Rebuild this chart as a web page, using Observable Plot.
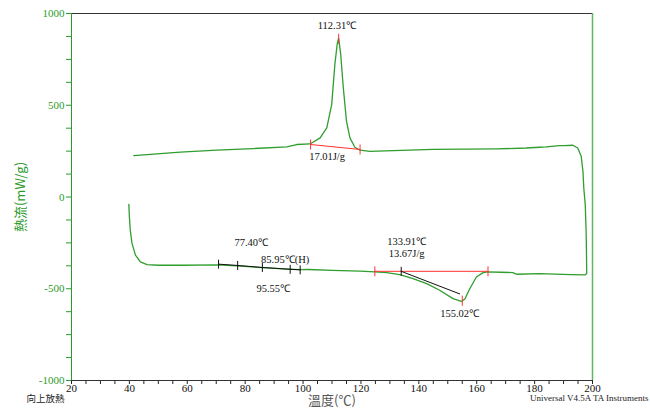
<!DOCTYPE html>
<html><head><meta charset="utf-8">
<script src="https://cdn.jsdelivr.net/npm/d3@7"></script>
<script src="https://cdn.jsdelivr.net/npm/@observablehq/plot@0.6"></script>
<style>body{margin:0;background:#fff}</style>
</head><body><div id="chart"></div>
<script>
// DSC loop: heating (lower) then cooling (upper), in drawing order
const temps = [39.8,40.0,40.3,40.9,42.1,43.8,46.1,50,58.2,70.8,77.1,85.8,94.9,99.0,101.8,110,119.7,124.8,128.9,133.4,138.0,142.7,147.2,151.8,154.7,155.9,157.6,159.9,162.2,163.9,168,172.5,173.7,181.7,192.6,197.5,198.0,197.9,197.8,197.5,197.0,196.7,196.1,194.9,193.2,190.3,188.6,184.0,181.7,177.1,166.8,144.9,123.1,119.7,117.9,116.2,115.0,113.9,113.0,112.3,111.8,111.0,109.9,108.2,105.9,102.4,97.8,94.4,82.8,70.2,57.6,41.5];
const heatFlow = [-40,-107,-180,-253,-317,-353,-368,-372,-372,-370,-375,-385,-393,-396,-395,-400,-404,-408,-412,-423,-445,-472,-508,-554,-569,-556,-500,-436,-412,-408,-410,-412,-421,-418,-423,-424,-417,-280,-189,-43,48,140,222,267,282,280,280,273,271,267,262,259,249,255,271,322,414,596,779,865,834,724,505,377,322,289,286,273,264,255,245,226];

const xDomain = [20, 200];
const yDomain = [-1000, 1000];
const xTicks = [20,40,60,80,100,120,140,160,180,200];
const xMinor = [25,30,35,45,50,55,65,70,75,85,90,95,105,110,115,125,130,135,145,150,155,165,170,175,185,190,195];
const yTicks = [-1000,-500,0,500,1000];
const yMinor = [-875,-750,-625,-375,-250,-125,125,250,375,625,750,875];

// annotations
const redLineT = [102.6, 119.7];
const redLineV = [286, 259];
const redLine2T = [124.8, 163.9];
const redLine2V = [-405, -405];
const redMarkT = [102.6, 119.7, 112.31, 124.8, 163.9, 155.02];
const redMarkV = [286, 259, 862, -405, -405, -565];
const tgLineT = [70.8, 77.4, 85.95, 95.55, 99.0];
const tgLineV = [-366, -373, -384, -394, -397];
const blackLine2T = [133.91, 154.1];
const blackLine2V = [-405, -528];
const blackMarkT = [70.8, 77.4, 85.95, 95.55, 99.0, 133.91];
const blackMarkV = [-366, -373, -384, -394, -397, -405];
const labelText = ["112.31℃","17.01J/g","77.40℃","85.95℃(H)","95.55℃","133.91℃","13.67J/g","155.02℃"];
const labelT = [111.7, 108.3, 82.1, 93.8, 89.7, 135.8, 135.8, 154.1];
const labelV = [934, 220, -249, -342, -498, -244, -308, -638];

const yLabel = "熱流(mW/g)";
const xLabel = "溫度(℃)";
const leftNote = "向上放熱";
const rightNote = "Universal V4.5A TA Instruments";

const green = "#2b9b2b";
const curveColor = "#2f9e2f";
const serif = "'Liberation Serif','Times New Roman',serif";
const cjk = "'Noto Sans CJK TC','Noto Sans CJK SC',sans-serif";

const pts = (T, V) => T.map((t, i) => ({t, v: V[i]}));
const loop = pts(temps, heatFlow);
const vline = {draw(ctx, size) { const r = Math.sqrt(size / Math.PI); ctx.moveTo(0, -r); ctx.lineTo(0, r); }};

const chart = Plot.plot({
  width: 650, height: 412,
  marginLeft: 71, marginRight: 58, marginTop: 13, marginBottom: 32,
  x: {domain: xDomain, label: null},
  y: {domain: yDomain, label: null},
  style: {fontFamily: serif, fontSize: "11px", background: "#fff"},
  marks: [
    Plot.axisY({ticks: yMinor, tickSize: 5, tickFormat: () => "", stroke: green, label: null}),
    Plot.axisY({ticks: yTicks, tickSize: 5, tickPadding: 2, tickFormat: d => String(d), stroke: green, fill: green, fontSize: 11, fontFamily: serif, label: null}),
    Plot.axisX({ticks: xMinor, tickSize: 4, tickFormat: () => "", stroke: "#222", label: null}),
    Plot.axisX({ticks: xTicks, tickSize: 4, tickPadding: 0, tickFormat: d => String(d), stroke: "#222", fill: "#111", fontSize: 11, fontFamily: serif, label: null}),
    Plot.ruleY([yDomain[1]], {stroke: "#333"}),
    Plot.ruleY([yDomain[0]], {stroke: "#333"}),
    Plot.ruleX([xDomain[1]], {stroke: "#5cb85c", strokeWidth: 1.5}),
    Plot.ruleX([xDomain[0]], {stroke: green}),
    Plot.line(loop, {x: "t", y: "v", stroke: curveColor, strokeWidth: 1.3}),
    Plot.line(pts(redLineT, redLineV), {x: "t", y: "v", stroke: "#ff3030", strokeWidth: 1}),
    Plot.line(pts(redLine2T, redLine2V), {x: "t", y: "v", stroke: "#ff3030", strokeWidth: 1}),
    Plot.line(pts(tgLineT, tgLineV), {x: "t", y: "v", stroke: "#111", strokeWidth: 1}),
    Plot.line(pts(blackLine2T, blackLine2V), {x: "t", y: "v", stroke: "#111", strokeWidth: 1}),
    Plot.dot(pts(redMarkT, redMarkV), {x: "t", y: "v", symbol: vline, r: 5, stroke: "#ff3030", fill: "none", strokeWidth: 1}),
    Plot.dot(pts(blackMarkT, blackMarkV), {x: "t", y: "v", symbol: vline, r: 4.5, stroke: "#111", fill: "none", strokeWidth: 1}),
    Plot.text(labelText, {x: (d, i) => labelT[i], y: (d, i) => labelV[i], text: d => d, fill: "#111", fontSize: 10.5, fontFamily: serif}),
    Plot.text([yLabel], {frameAnchor: "left", dx: -51, rotate: -90, textAnchor: "middle", lineAnchor: "middle", fill: green, fontSize: 13, fontFamily: cjk}),
    Plot.text([xLabel], {frameAnchor: "bottom", dy: 20, textAnchor: "middle", lineAnchor: "middle", fill: "#555", fontSize: 13, fontFamily: cjk}),
    Plot.text([leftNote], {frameAnchor: "bottom-left", dx: -26, dy: 18, textAnchor: "middle", lineAnchor: "middle", fill: "#222", fontSize: 9.5, fontFamily: cjk}),
    Plot.text([rightNote], {frameAnchor: "bottom-right", dx: 56, dy: 18, textAnchor: "end", lineAnchor: "middle", fill: "#222", fontSize: 9, fontFamily: serif})
  ]
});
document.getElementById("chart").appendChild(chart);
</script>
</body></html>
